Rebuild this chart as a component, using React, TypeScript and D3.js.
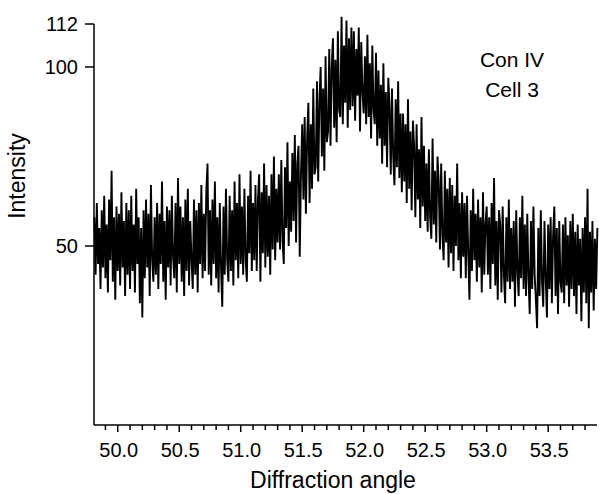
import React from 'react';
import * as d3 from 'd3';

// Scan grid (uniform step of the diffractometer)
const ANGLE_START = 49.81;
const ANGLE_STEP = 0.01;

// Intensity values, one row per 0.1 degree
const intensity: number[] = [
  58, 42, 62, 45, 55, 38, 60, 44, 64, 41,
  56, 37, 63, 46, 71, 40, 58, 35, 61, 43,
  59, 39, 65, 44, 57, 36, 62, 42, 60, 38,
  64, 43, 56, 37, 66, 45, 58, 34, 55, 30,
  60, 41, 63, 44, 59, 36, 67, 46, 40, 58,
  42, 62, 38, 59, 45, 68, 40, 57, 35, 61,
  44, 60, 39, 64, 47, 41, 62, 37, 69, 45,
  61, 40, 58, 36, 63, 43, 66, 39, 57, 46,
  38, 63, 42, 60, 37, 62, 45, 67, 41, 59,
  43, 65, 73, 42, 60, 39, 63, 45, 68, 41,
  58, 37, 62, 44, 33, 61, 42, 66, 46, 40,
  64, 43, 60, 39, 68, 46, 62, 41, 70, 45,
  61, 42, 66, 46, 40, 64, 48, 71, 43, 62,
  46, 67, 43, 63, 70, 40, 65, 48, 73, 44,
  67, 47, 64, 42, 70, 49, 75, 46, 66, 51,
  70, 49, 74, 52, 45, 72, 55, 79, 50, 68,
  54, 76, 57, 81, 51, 73, 78, 47, 70, 84,
  63, 86, 59, 80, 90, 62, 84, 66, 94, 70,
  72, 96, 68, 91, 100, 75, 94, 71, 103, 79,
  82, 105, 78, 100, 108, 83, 102, 79, 110, 88,
  86, 114, 84, 106, 90, 113, 83, 108, 88, 111,
  89, 110, 85, 105, 92, 111, 82, 107, 93, 87,
  103, 84, 109, 86, 101, 80, 106, 88, 84, 104,
  78, 99, 80, 95, 73, 101, 78, 93, 72, 97,
  89, 70, 94, 75, 67, 91, 72, 96, 69, 87,
  65, 87, 68, 84, 62, 91, 66, 82, 60, 85,
  78, 58, 84, 63, 77, 55, 86, 61, 78, 57,
  73, 54, 77, 58, 52, 80, 56, 71, 51, 75,
  68, 49, 73, 53, 46, 71, 51, 66, 44, 69,
  48, 67, 43, 64, 50, 73, 46, 62, 41, 65,
  47, 62, 41, 64, 48, 35, 60, 43, 66, 46,
  59, 40, 63, 44, 58, 37, 65, 42, 56, 61,
  42, 58, 38, 62, 45, 69, 39, 57, 35, 60,
  56, 37, 61, 42, 34, 58, 40, 63, 38, 55,
  40, 57, 33, 60, 43, 36, 58, 41, 64, 38,
  56, 36, 59, 41, 31, 57, 38, 61, 42, 35,
  27, 55, 36, 60, 40, 33, 57, 41, 30, 56,
  38, 58, 34, 53, 61, 36, 55, 31, 57, 40,
  37, 56, 34, 58, 39, 53, 33, 57, 38, 59,
  36, 54, 31, 56, 39, 52, 29, 55, 37, 58,
  34, 66, 27, 54, 37, 57, 32, 52, 38, 55,
];

const xMajorTicks = [50.0, 50.5, 51.0, 51.5, 52.0, 52.5, 53.0, 53.5];
const xTickLabels = ['50.0', '50.5', '51.0', '51.5', '52.0', '52.5', '53.0', '53.5'];
const xMinorFirst = 49.9;
const xMinorLast = 53.8;
const yTicks = [50, 100, 112];
const yTickLabels = ['50', '100', '112'];
const annotationLines = ['Con IV', 'Cell 3'];
const xTitle = 'Diffraction angle';
const yTitle = 'Intensity';

const W = 599;
const H = 494;
const FONT = '"Liberation Sans", Arial, Helvetica, sans-serif';

export default function App() {
  const x = d3.scaleLinear().domain([49.807, 53.897]).range([94, 597]);
  const y = d3.scaleLinear().domain([0, 112]).range([425, 24]);

  const points: [number, number][] = intensity.map((v, i) => [ANGLE_START + i * ANGLE_STEP, v]);
  const line = d3
    .line<[number, number]>()
    .x((d) => x(d[0]))
    .y((d) => y(d[1]));

  const minor = d3.range(Math.round(xMinorFirst * 10), Math.round(xMinorLast * 10) + 1).map((k) => k / 10);
  const isMajor = (v: number) => xMajorTicks.some((m) => Math.abs(m - v) < 1e-6);

  const y0 = y(0);

  return (
    <svg
      width={W}
      height={H}
      style={{ position: 'absolute', left: 0, top: 0, background: '#fff' }}
      fontFamily={FONT}
    >
      <rect x={0} y={0} width={W} height={H} fill="#fff" />
      <path d={line(points) || ''} fill="none" stroke="#000" strokeWidth={1.9} strokeLinejoin="bevel" />

      {/* axes */}
      <line x1={94} x2={94} y1={y(112)} y2={y0} stroke="#000" strokeWidth={1.5} />
      <line x1={94} x2={597} y1={y0} y2={y0} stroke="#000" strokeWidth={1.5} />

      {yTicks.map((t, i) => (
        <g key={'yt' + t}>
          <line x1={85} x2={94} y1={y(t)} y2={y(t)} stroke="#000" strokeWidth={1.5} />
          <text x={78} y={y(t) + 7} textAnchor="end" fontSize={20} fill="#000">
            {yTickLabels[i]}
          </text>
        </g>
      ))}

      {minor.map((t) => (
        <line
          key={'xm' + t}
          x1={x(t)}
          x2={x(t)}
          y1={y0}
          y2={y0 + (isMajor(t) ? 7 : 5)}
          stroke="#000"
          strokeWidth={1.5}
        />
      ))}
      {xMajorTicks.map((t, i) => (
        <text key={'xl' + t} x={x(t) + 1} y={457} textAnchor="middle" fontSize={20} fill="#000">
          {xTickLabels[i]}
        </text>
      ))}

      <text x={333} y={488} textAnchor="middle" fontSize={23} fill="#000">
        {xTitle}
      </text>
      <text transform="translate(25,176) rotate(-90)" textAnchor="middle" fontSize={23} fill="#000">
        {yTitle}
      </text>

      {annotationLines.map((s, i) => (
        <text key={s} x={512} y={67 + i * 30} textAnchor="middle" fontSize={21} fill="#000">
          {s}
        </text>
      ))}
    </svg>
  );
}
